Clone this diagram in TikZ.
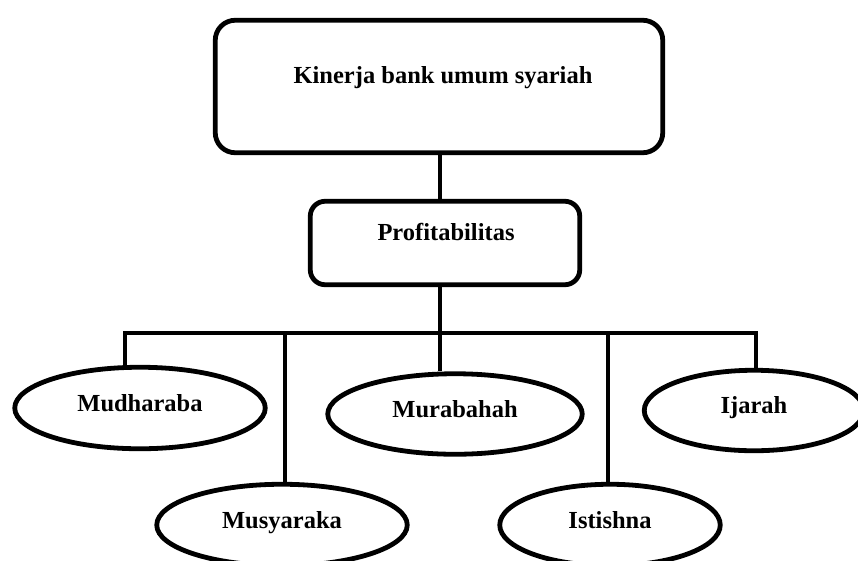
\documentclass[tikz,border=0pt]{standalone}
\usepackage{fontspec}
\setmainfont{Liberation Serif}
\usetikzlibrary{shapes.geometric}
\tikzset{
  conn/.style={line width=4.8pt, line join=miter},
  boxshape/.style={draw, line width=4.8pt, rectangle, inner sep=0pt},
  ovalshape/.style={draw, line width=4.8pt, ellipse, inner sep=0pt,
    font=\fontsize{24.5}{28}\selectfont\bfseries, text height=0.66em, text depth=0pt},
  lbl/.style={font=\fontsize{24.5}{28}\selectfont\bfseries, inner sep=0pt, anchor=base}
}
\begin{document}
\begin{tikzpicture}[x=1pt,y=-1pt]
\useasboundingbox (0,0) rectangle (858,560);
\clip (0,0) rectangle (858,560);
% boxes
\node[boxshape, rounded corners=20pt, minimum width=447.5pt, minimum height=132.5pt] (kb) at (439,86.5) {};
\node[lbl] (kbt) at (443,83) {Kinerja bank umum syariah};
\node[boxshape, rounded corners=15pt, minimum width=269.5pt, minimum height=83.5pt] (pro) at (445,243) {};
\node[lbl] (prot) at (446,240) {Profitabilitas};
% ellipses
\node[ovalshape, minimum width=250.5pt, minimum height=81.5pt] (mud) at (140,408) {Mudharaba};
\node[ovalshape, minimum width=254.5pt, minimum height=80.5pt] (mur) at (455,414) {Murabahah};
\node[ovalshape, minimum width=219.5pt, minimum height=80.5pt] (ija) at (754,410.5) {Ijarah};
\node[ovalshape, minimum width=250.5pt, minimum height=81.5pt] (mus) at (282,525) {Musyaraka};
\node[ovalshape, minimum width=220.5pt, minimum height=81.5pt] (ist) at (610,525) {Istishna};
% junctions
\coordinate (j1) at (125,333);
\coordinate (j2) at (285,333);
\coordinate (j3) at (440,333);
\coordinate (j4) at (608,333);
\coordinate (j5) at (756,333);
% connectors
\draw[conn] (j3 |- kb.south) -- (j3 |- pro.north);
\draw[conn] (j3 |- pro.south) -- (j3);
\draw[conn] (j1 |- mud.north) -- (j1) -- (j5) -- (j5 |- ija.north);
\draw[conn] (j2) -- (j2 |- mus.north);
\draw[conn] (j3) -- (j3 |- mur.north);
\draw[conn] (j4) -- (j4 |- ist.north);
\end{tikzpicture}
\end{document}
